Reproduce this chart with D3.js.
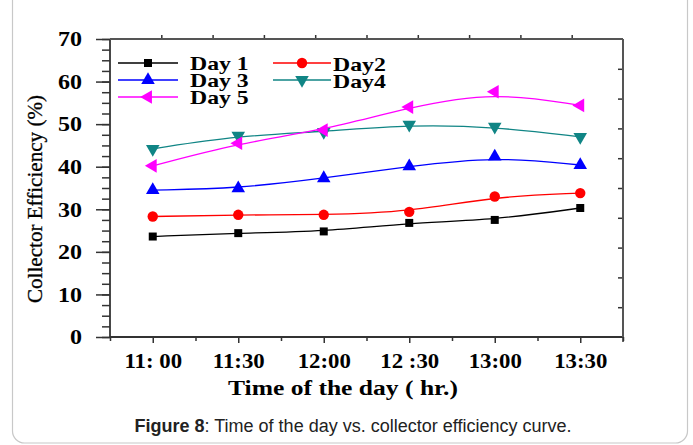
<!DOCTYPE html>
<html>
<head>
<meta charset="utf-8">
<script src="https://cdn.jsdelivr.net/npm/d3@7"></script>
<style>
  html, body { margin: 0; padding: 0; background: #fff; }
  svg { display: block; }
</style>
</head>
<body>
<div id="chart"></div>
<script>
// data
const times = ["11: 00", "11:30", "12:00", "12 :30", "13:00", "13:30"];
const day1 = [23.6, 24.4, 24.8, 26.8, 27.5, 30.3];
const day2 = [28.3, 28.7, 28.7, 29.4, 33.0, 33.8];
const day3 = [34.5, 34.9, 37.3, 40.1, 42.4, 40.4];
const day4 = [44.2, 47.3, 48.2, 49.9, 49.4, 47.0];
const day5 = [40.2, 45.5, 48.6, 54.0, 57.6, 54.4];
const yTicks = [0, 10, 20, 30, 40, 50, 60, 70];

const seriesNames = ["Day 1", "Day2", "Day 3", "Day4", "Day 5"];
const seriesColors = ["#000000", "#ff0000", "#0000ff", "#108585", "#ff00ff"];

const W = 693, H = 445;
const plotLeft = 110, plotRight = 623, plotTop = 39, plotBottom = 337;
const serif = "'Liberation Serif', 'Times New Roman', serif";

// the original uses a wider serif face, so widen the glyphs a bit
const widen = (sel, factor) => sel.each(function () {
  const len = this.getComputedTextLength();
  d3.select(this)
    .attr("textLength", len * factor)
    .attr("lengthAdjust", "spacingAndGlyphs");
});

const svg = d3.select("#chart").append("svg")
  .attr("width", W).attr("height", H);

svg.append("rect").attr("width", W).attr("height", H).attr("fill", "#fff");

// frame of the figure box
svg.append("rect")
  .attr("x", 12.5).attr("y", -20)
  .attr("width", 675).attr("height", 463)
  .attr("rx", 12)
  .attr("fill", "none")
  .attr("stroke", "#c8c8c8")
  .attr("stroke-width", 1.2);

const x = d3.scaleLinear().domain([-0.5, 5.5]).range([plotLeft, plotRight]);
const y = d3.scaleLinear().domain([0, 70]).range([plotBottom, plotTop]);
// top / right decorative axes use 10 divisions
const xTop = d3.scaleLinear().domain([0, 10]).range([plotLeft, plotRight]);
const yRight = d3.scaleLinear().domain([0, 10]).range([plotBottom, plotTop]);

const styleAxis = (g) => {
  g.selectAll("path.domain").remove();
  g.selectAll("line").attr("stroke", "#333").attr("stroke-width", 1.5);
};

// left minor ticks
svg.append("g")
  .attr("transform", `translate(${plotLeft},0)`)
  .call(d3.axisLeft(y).tickValues(d3.range(0, 70.1, 2.5)).tickSize(8).tickFormat(""))
  .call(styleAxis);

// left major ticks with labels
const yAxisG = svg.append("g")
  .attr("transform", `translate(${plotLeft},0)`)
  .call(d3.axisLeft(y).tickValues(yTicks).tickSize(14).tickPadding(14))
  .call(styleAxis);
yAxisG.selectAll("text")
  .attr("font-family", serif)
  .attr("font-weight", "bold")
  .attr("font-size", 20)
  .attr("fill", "#000")
  .attr("dy", "0.34em")
  .call(widen, 1.2);

// bottom minor ticks
svg.append("g")
  .attr("transform", `translate(0,${plotBottom})`)
  .call(d3.axisBottom(x).tickValues(d3.range(-0.5, 5.6, 1)).tickSize(4).tickFormat(""))
  .call(styleAxis);

// bottom major ticks with labels
const xAxisG = svg.append("g")
  .attr("transform", `translate(0,${plotBottom})`)
  .call(d3.axisBottom(x).tickValues(d3.range(times.length)).tickSize(6).tickPadding(11)
    .tickFormat((i) => times[i]))
  .call(styleAxis);
xAxisG.selectAll("text")
  .attr("font-family", serif)
  .attr("font-weight", "bold")
  .attr("font-size", 20)
  .attr("fill", "#000")
  .call(widen, 1.14);

// top ticks (outward)
svg.append("g")
  .attr("transform", `translate(0,${plotTop})`)
  .call(d3.axisTop(xTop).tickValues(d3.range(1, 10)).tickSize(4).tickFormat(""))
  .call(styleAxis);

// right ticks (inward)
svg.append("g")
  .attr("transform", `translate(${plotRight},0)`)
  .call(d3.axisRight(yRight).tickValues(d3.range(1, 10)).tickSize(-5).tickFormat(""))
  .call(styleAxis);

// bottom-right tick
svg.append("line")
  .attr("x1", plotRight).attr("x2", plotRight).attr("y1", plotBottom).attr("y2", plotBottom + 5)
  .attr("stroke", "#333").attr("stroke-width", 1.5);

// plot frame
svg.append("line").attr("x1", plotLeft).attr("x2", plotLeft).attr("y1", plotTop).attr("y2", plotBottom)
  .attr("stroke", "#333").attr("stroke-width", 1.8);
svg.append("line").attr("x1", plotLeft).attr("x2", plotRight).attr("y1", plotBottom).attr("y2", plotBottom)
  .attr("stroke", "#333").attr("stroke-width", 1.8);
svg.append("line").attr("x1", plotLeft).attr("x2", plotRight).attr("y1", plotTop).attr("y2", plotTop)
  .attr("stroke", "#555").attr("stroke-width", 2);
svg.append("line").attr("x1", plotRight).attr("x2", plotRight).attr("y1", plotTop).attr("y2", plotBottom)
  .attr("stroke", "#555").attr("stroke-width", 2);

// axis titles
svg.append("text")
  .attr("transform", "translate(42,199) rotate(-90)")
  .attr("text-anchor", "middle")
  .attr("font-family", serif)
  .attr("font-size", 20)
  .attr("fill", "#000")
  .attr("stroke", "#000").attr("stroke-width", 0.3)
  .attr("textLength", 208)
  .attr("lengthAdjust", "spacingAndGlyphs")
  .text("Collector Efficiency (%)");

svg.append("text")
  .attr("x", 343).attr("y", 395)
  .attr("text-anchor", "middle")
  .attr("font-family", serif)
  .attr("font-weight", "bold")
  .attr("font-size", 20)
  .attr("fill", "#000")
  .attr("textLength", 230)
  .attr("lengthAdjust", "spacingAndGlyphs")
  .text("Time of the day ( hr.)");

// series
const allSeries = [day1, day2, day3, day4, day5];
const symbols = [
  { type: d3.symbolSquare, size: 64, rotate: 0 },
  { type: d3.symbolCircle, size: 85, rotate: 0 },
  { type: d3.symbolTriangle, size: 80, rotate: 0 },
  { type: d3.symbolTriangle, size: 80, rotate: 180 },
  { type: d3.symbolTriangle, size: 80, rotate: -90 },
];

const line = d3.line()
  .x((d, i) => x(i))
  .y((d) => y(d))
  .curve(d3.curveBasis);

allSeries.forEach((vals, k) => {
  const g = svg.append("g");
  g.append("path")
    .datum(vals)
    .attr("d", line)
    .attr("fill", "none")
    .attr("stroke", seriesColors[k])
    .attr("stroke-width", 1.3);
  g.selectAll("path.pt")
    .data(vals)
    .join("path")
    .attr("class", "pt")
    .attr("d", d3.symbol().type(symbols[k].type).size(symbols[k].size))
    .attr("transform", (d, i) => `translate(${x(i)},${y(d)}) rotate(${symbols[k].rotate})`)
    .attr("fill", seriesColors[k]);
});

// legend
const legendItems = [
  { x1: 118, x2: 178, tx: 190, ly: 63, ty: 70 },
  { x1: 273, x2: 331, tx: 333, ly: 63, ty: 71 },
  { x1: 118, x2: 178, tx: 190, ly: 80, ty: 87 },
  { x1: 273, x2: 331, tx: 333, ly: 80, ty: 88 },
  { x1: 118, x2: 178, tx: 190, ly: 97, ty: 104 },
];
legendItems.forEach((it, k) => {
  const g = svg.append("g");
  g.append("line")
    .attr("x1", it.x1).attr("x2", it.x2).attr("y1", it.ly).attr("y2", it.ly)
    .attr("stroke", seriesColors[k]).attr("stroke-width", 1.3);
  g.append("path")
    .attr("d", d3.symbol().type(symbols[k].type).size(symbols[k].size)())
    .attr("transform", `translate(${(it.x1 + it.x2) / 2},${it.ly}) rotate(${symbols[k].rotate})`)
    .attr("fill", seriesColors[k]);
  g.append("text")
    .attr("x", it.tx).attr("y", it.ty)
    .attr("font-family", serif)
    .attr("font-weight", "bold")
    .attr("font-size", 19)
    .attr("fill", "#000")
    .text(seriesNames[k])
    .call(widen, 1.25);
});

// caption
const cap = svg.append("text")
  .attr("x", 353).attr("y", 432)
  .attr("text-anchor", "middle")
  .attr("font-family", "'Liberation Sans', Arial, sans-serif")
  .attr("font-size", 18)
  .attr("fill", "#222");
cap.append("tspan").attr("font-weight", "bold").text("Figure 8");
cap.append("tspan").text(": Time of the day vs. collector efficiency curve.");
</script>
</body>
</html>
